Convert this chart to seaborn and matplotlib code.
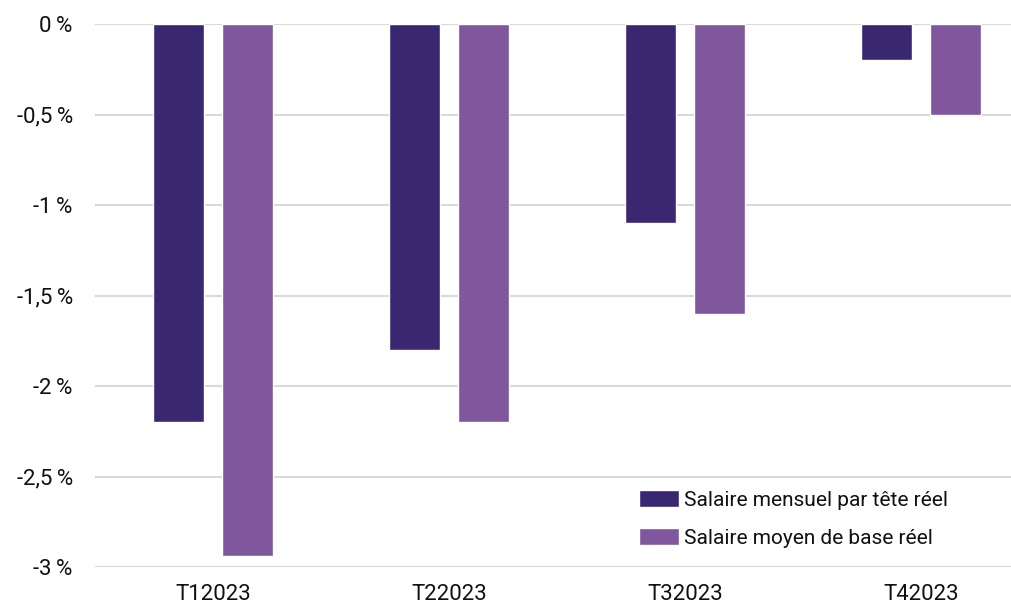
import matplotlib
matplotlib.use("Agg")
import matplotlib.pyplot as plt
import seaborn as sns
import pandas as pd

categories = ["T12023", "T22023", "T32023", "T42023"]
series_names = ["Salaire mensuel par tête réel", "Salaire moyen de base réel"]
salaire_mensuel = [-2.2, -1.8, -1.1, -0.2]
salaire_base = [-2.94, -2.2, -1.6, -0.5]
yticks = [0, -0.5, -1, -1.5, -2, -2.5, -3]
ytick_labels = ["0\u202f%", "-0,5\u202f%", "-1\u202f%", "-1,5\u202f%", "-2\u202f%", "-2,5\u202f%", "-3\u202f%"]
colors = ["#3a2772", "#80569c"]

df = pd.DataFrame({
    "cat": categories * 2,
    "serie": [series_names[0]] * 4 + [series_names[1]] * 4,
    "val": salaire_mensuel + salaire_base,
})

sns.set_style("white")
plt.rcParams["font.family"] = ["Roboto", "DejaVu Sans"]

fig = plt.figure(figsize=(10.11, 6.03), dpi=100)
ax = fig.add_axes([95 / 1011, 1 - 567 / 603, (1011 - 95) / 1011, (567 - 24) / 603])

sns.barplot(data=df, x="cat", y="val", hue="serie", palette=colors,
            width=0.585, gap=0.26, ax=ax, saturation=1, zorder=3)

ax.set_ylim(-3, 0)
ax.set_xlim(-0.5, 3.38)
ax.set_yticks(yticks)
ax.set_yticklabels(ytick_labels)
ax.yaxis.grid(True, color="#d9d9d9", linewidth=1.5, zorder=0)
ax.xaxis.grid(False)
for s in ax.spines.values():
    s.set_visible(False)
ax.tick_params(axis="both", length=0, labelsize=16, colors="#111111")
ax.tick_params(axis="y", pad=16)
ax.tick_params(axis="x", pad=12)
ax.set_xlabel("")
ax.set_ylabel("")
ax.set_axisbelow(True)

leg = ax.legend(loc="lower left", bbox_to_anchor=(0.594, 0.035), frameon=False,
                fontsize=15, handlelength=1.9, handleheight=0.9, handletextpad=0.25,
                labelspacing=0.88, borderaxespad=0, borderpad=0)
for t in leg.get_texts():
    t.set_color("#111111")

fig.savefig("out.png", dpi=100)
